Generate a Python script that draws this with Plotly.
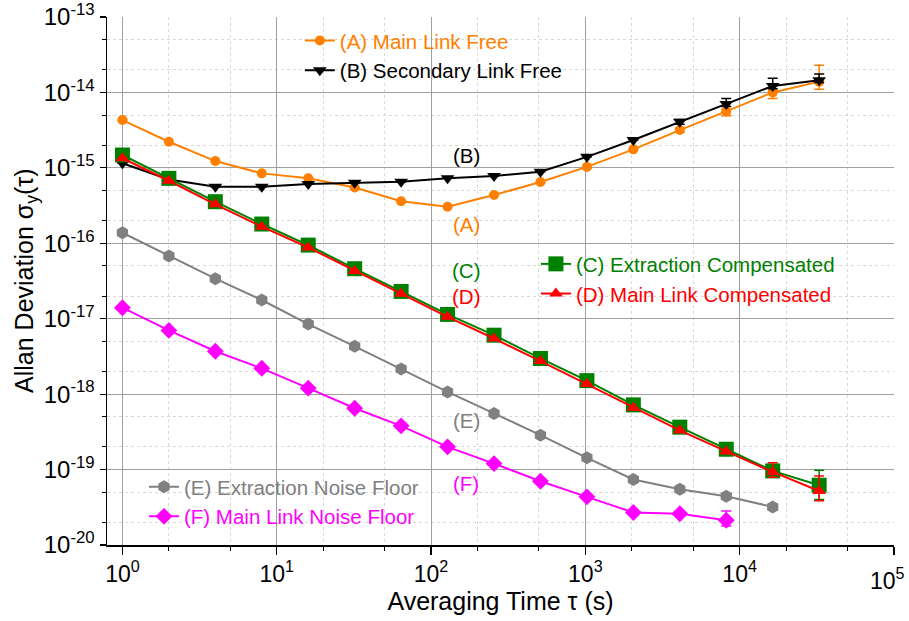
import math
import plotly.graph_objects as go

tau = [1, 2, 4, 8, 16, 32, 64, 128, 256, 512, 1024, 2048, 4096, 8192, 16384, 32768]

adev_A = [4.3e-15, 2.22e-15, 1.23e-15, 8.45e-16, 7.26e-16, 5.5e-16, 3.6e-16, 3.05e-16,
          4.36e-16, 6.5e-16, 1.03e-15, 1.76e-15, 3.17e-15, 5.6e-15, 1.0e-14, 1.39e-14]
adev_B = [1.15e-15, 7.0e-16, 5.6e-16, 5.6e-16, 6.1e-16, 6.35e-16, 6.55e-16, 7.3e-16,
          7.8e-16, 8.9e-16, 1.4e-15, 2.34e-15, 4.08e-15, 7.0e-15, 1.22e-14, 1.45e-14]
adev_C = [1.48e-15, 7.26e-16, 3.56e-16, 1.8e-16, 9.46e-17, 4.6e-17, 2.3e-17, 1.14e-17,
          6.05e-18, 2.97e-18, 1.51e-18, 7.2e-19, 3.65e-19, 1.86e-19, 9.6e-20, 6.2e-20]
adev_D = [1.34e-15, 6.75e-16, 3.28e-16, 1.66e-16, 8.8e-17, 4.3e-17, 2.15e-17, 1.06e-17,
          5.47e-18, 2.74e-18, 1.36e-18, 6.6e-19, 3.3e-19, 1.74e-19, 9.3e-20, 5.2e-20]
tau_E = tau[:15]
adev_E = [1.38e-16, 6.8e-17, 3.4e-17, 1.77e-17, 8.5e-18, 4.3e-18, 2.15e-18, 1.07e-18,
          5.55e-19, 2.86e-19, 1.43e-19, 7.4e-20, 5.5e-20, 4.44e-20, 3.2e-20]
tau_F = tau[:14]
adev_F = [1.4e-17, 7.0e-18, 3.7e-18, 2.2e-18, 1.2e-18, 6.5e-19, 3.8e-19, 2.0e-19,
          1.2e-19, 7.0e-20, 4.35e-20, 2.7e-20, 2.6e-20, 2.13e-20]

N = None
err_A_plus = [N]*12 + [0.2e-15, 0.4e-15, 0.6e-15, 0.9e-14]
err_A_minus = [N]*12 + [0.2e-15, 0.7e-15, 1.7e-15, 0.29e-14]
err_B_plus = [N]*12 + [0.3e-15, 1.3e-15, 3.2e-15, 0.3e-14]
err_B_minus = [N]*12 + [0.3e-15, 0.5e-15, 1.0e-15, 0.1e-14]
err_C_plus = [N]*14 + [0.2e-20, 3.6e-20]
err_C_minus = [N]*14 + [0.2e-20, 2.2e-20]
err_D_plus = [N]*14 + [3.0e-20, 3.0e-20]
err_D_minus = [N]*14 + [1.4e-20, 1.35e-20]
err_F_plus = [N]*13 + [0.7e-20]
err_F_minus = [N]*13 + [0.35e-20]

names = ["(A) Main Link Free", "(B) Secondary Link Free",
         "(C) Extraction Compensated", "(D) Main Link Compensated",
         "(E) Extraction Noise Floor", "(F) Main Link Noise Floor"]
colors = ["#FF8000", "#000000", "#008000", "#FF0000", "#808080", "#FF00FF"]
symbols = ["circle", "triangle-down", "square", "triangle-up", "hexagon", "diamond"]
msizes = [10, 12, 15, 12, 13, 13]
legends = ["legend", "legend", "legend2", "legend2", "legend3", "legend3"]

x_tickvals = [1, 10, 100, 1000, 10000, 100000]
x_ticktext = ["10<sup>0</sup>", "10<sup>1</sup>", "10<sup>2</sup>", "10<sup>3</sup>",
              "10<sup>4</sup>", "10<sup>5</sup>"]
y_tickvals = [1e-20, 1e-19, 1e-18, 1e-17, 1e-16, 1e-15, 1e-14, 1e-13]
y_ticktext = ["10<sup>-20</sup>", "10<sup>-19</sup>", "10<sup>-18</sup>", "10<sup>-17</sup>",
              "10<sup>-16</sup>", "10<sup>-15</sup>", "10<sup>-14</sup>", "10<sup>-13</sup>"]

labels = ["(A)", "(B)", "(C)", "(D)", "(E)", "(F)"]
label_x = [169, 169, 169, 169, 169, 169]
label_y = [1.8e-16, 1.48e-15, 4.4e-17, 2.0e-17, 4.5e-19, 6.5e-20]

series = [
    (tau, adev_A, err_A_plus, err_A_minus),
    (tau, adev_B, err_B_plus, err_B_minus),
    (tau, adev_C, err_C_plus, err_C_minus),
    (tau, adev_D, err_D_plus, err_D_minus),
    (tau_E, adev_E, None, None),
    (tau_F, adev_F, err_F_plus, err_F_minus),
]

FONT = "Liberation Sans, Arial, Helvetica, sans-serif"

fig = go.Figure()
for i, (xs, ys, ep, em) in enumerate(series):
    err = None
    if ep is not None:
        err = dict(type="data", symmetric=False, array=ep, arrayminus=em,
                   color=colors[i], thickness=1.5, width=5, visible=True)
    fig.add_trace(go.Scatter(
        x=xs, y=ys, mode="lines+markers",
        name=f"<span style='color:{colors[i]}'>{names[i]}</span>",
        line=dict(color=colors[i], width=2),
        marker=dict(symbol=symbols[i], size=msizes[i], color=colors[i],
                    line=dict(width=0)),
        error_y=err,
        legend=legends[i],
    ))

for lab, lx, ly, c in zip(labels, label_x, label_y, colors):
    fig.add_annotation(x=math.log10(lx), y=math.log10(ly),
                       text=lab, showarrow=False,
                       font=dict(family=FONT, size=20.5, color=c))

# y-axis title as a rotated annotation (placed like the reference)
fig.add_annotation(xref="paper", yref="paper", x=-0.103, y=0.5,
                   xanchor="center", yanchor="middle", textangle=-90,
                   text="Allan Deviation σ<sub>y</sub>(τ)", showarrow=False,
                   font=dict(family=FONT, size=25, color="black"))

# last x tick label kept fully inside the page, like the reference
fig.add_annotation(xref="paper", yref="paper", x=1.0165, y=-0.033,
                   xanchor="right", yanchor="top", text=x_ticktext[-1], showarrow=False,
                   font=dict(family=FONT, size=23, color="black"))

axis_common = dict(
    type="log", showline=True, linecolor="black", linewidth=1.5,
    ticks="outside", tickwidth=1.2, tickcolor="black",
    showgrid=True, gridcolor="#A0A0A0", gridwidth=1,
    zeroline=False, mirror=False, automargin=False,
    ticklabeloverflow="allow",
    minor=dict(ticks="outside", ticklen=4, tickcolor="black", tickwidth=1,
               showgrid=True, gridcolor="#D8D8D8", griddash="dot", gridwidth=1),
)

fig.update_xaxes(**axis_common, range=[-0.1, 5.0005], tickvals=x_tickvals,
                 ticktext=x_ticktext[:-1] + [""], ticklen=8, ticklabelstandoff=0,
                 tickfont=dict(family=FONT, size=23, color="black"),
                 title=dict(text="Averaging Time τ (s)",
                            font=dict(family=FONT, size=25, color="black"), standoff=4))
fig.update_yaxes(**axis_common, range=[-20, -13], tickvals=y_tickvals, ticktext=y_ticktext,
                 ticklen=6, ticklabelstandoff=0,
                 tickfont=dict(family=FONT, size=24, color="black"))

leg_common = dict(bgcolor="rgba(0,0,0,0)", borderwidth=0, xanchor="left", yanchor="top",
                  font=dict(family=FONT, size=20.5, color="black"), tracegroupgap=0)
fig.update_layout(
    width=909, height=621,
    margin=dict(l=107, r=15, t=17, b=76, autoexpand=False),
    plot_bgcolor="white", paper_bgcolor="white",
    showlegend=True, hovermode=False,
    legend=dict(**leg_common, x=0.245, y=0.993),
    legend2=dict(**leg_common, x=0.545, y=0.57),
    legend3=dict(**leg_common, x=0.047, y=0.148),
    font=dict(family=FONT),
)

fig.write_html("out.html",
               config={"displayModeBar": False, "staticPlot": True},
               post_script="document.body.style.margin='0';document.body.style.overflow='hidden';")
